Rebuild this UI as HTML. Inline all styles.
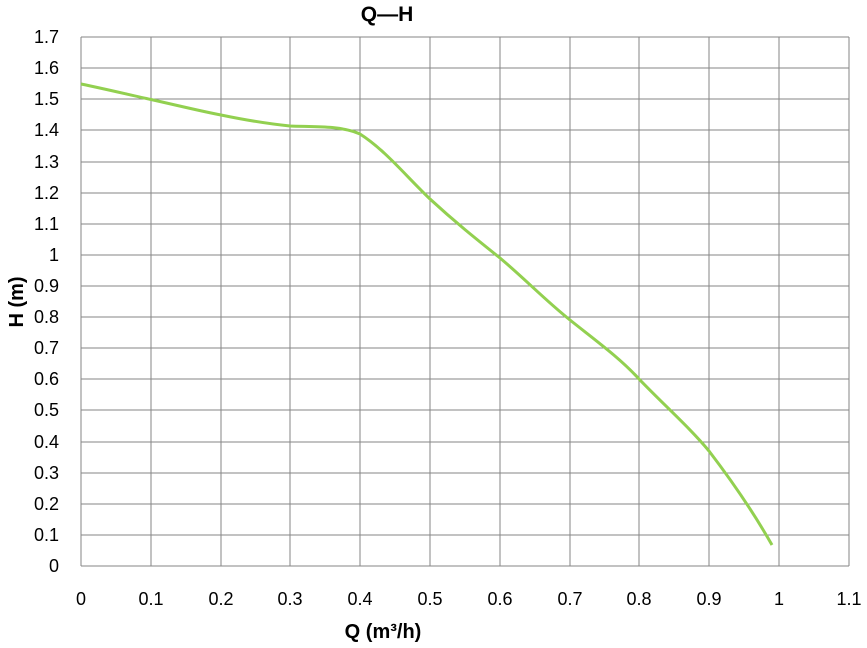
<!DOCTYPE html>
<html><head><meta charset="utf-8"><style>
body{margin:0;background:#fff;}
svg text{font-family:"Liberation Sans",sans-serif;fill:#000;}
</style></head><body>
<svg width="867" height="643" xmlns="http://www.w3.org/2000/svg">
<g stroke="#868686" stroke-width="1" shape-rendering="crispEdges">
<line x1="81" y1="37" x2="849" y2="37"/><line x1="81" y1="68" x2="849" y2="68"/><line x1="81" y1="99" x2="849" y2="99"/><line x1="81" y1="130" x2="849" y2="130"/><line x1="81" y1="162" x2="849" y2="162"/><line x1="81" y1="193" x2="849" y2="193"/><line x1="81" y1="224" x2="849" y2="224"/><line x1="81" y1="255" x2="849" y2="255"/><line x1="81" y1="286" x2="849" y2="286"/><line x1="81" y1="317" x2="849" y2="317"/><line x1="81" y1="348" x2="849" y2="348"/><line x1="81" y1="379" x2="849" y2="379"/><line x1="81" y1="410" x2="849" y2="410"/><line x1="81" y1="442" x2="849" y2="442"/><line x1="81" y1="473" x2="849" y2="473"/><line x1="81" y1="504" x2="849" y2="504"/><line x1="81" y1="535" x2="849" y2="535"/><line x1="81" y1="566" x2="849" y2="566"/>
<line x1="81" y1="37" x2="81" y2="566"/><line x1="151" y1="37" x2="151" y2="566"/><line x1="221" y1="37" x2="221" y2="566"/><line x1="290" y1="37" x2="290" y2="566"/><line x1="360" y1="37" x2="360" y2="566"/><line x1="430" y1="37" x2="430" y2="566"/><line x1="500" y1="37" x2="500" y2="566"/><line x1="570" y1="37" x2="570" y2="566"/><line x1="639" y1="37" x2="639" y2="566"/><line x1="709" y1="37" x2="709" y2="566"/><line x1="779" y1="37" x2="779" y2="566"/><line x1="849" y1="37" x2="849" y2="566"/>
</g>
<path d="M81,84 C110,90 130,95 151,99.5 C180,106 200,111 221,115 C250,121 270,124 290,126 C310,127 340,125 360,134 C385,150 405,175 430,199 C455,222 475,238 500,258 C525,279 545,300 570,320 C595,340 620,358 639,379 C665,406 690,428 709,451 C735,485 755,515 772,545" fill="none" stroke="#92d050" stroke-width="3"/>
<g font-size="18" text-anchor="end">
<text x="59" y="43">1.7</text><text x="59" y="74">1.6</text><text x="59" y="105">1.5</text><text x="59" y="136">1.4</text><text x="59" y="168">1.3</text><text x="59" y="199">1.2</text><text x="59" y="230">1.1</text><text x="59" y="261">1</text><text x="59" y="292">0.9</text><text x="59" y="323">0.8</text><text x="59" y="354">0.7</text><text x="59" y="385">0.6</text><text x="59" y="416">0.5</text><text x="59" y="448">0.4</text><text x="59" y="479">0.3</text><text x="59" y="510">0.2</text><text x="59" y="541">0.1</text><text x="59" y="572">0</text>
</g>
<g font-size="18" text-anchor="middle">
<text x="81" y="605">0</text><text x="151" y="605">0.1</text><text x="221" y="605">0.2</text><text x="290" y="605">0.3</text><text x="360" y="605">0.4</text><text x="430" y="605">0.5</text><text x="500" y="605">0.6</text><text x="570" y="605">0.7</text><text x="639" y="605">0.8</text><text x="709" y="605">0.9</text><text x="779" y="605">1</text><text x="849" y="605">1.1</text>
</g>
<text x="387" y="21" font-size="21" font-weight="bold" text-anchor="middle">Q—H</text>
<text x="383" y="638" font-size="20" font-weight="bold" text-anchor="middle">Q (m³/h)</text>
<text transform="translate(23,302) rotate(-90)" font-size="20" font-weight="bold" text-anchor="middle">H (m)</text>
</svg>
</body></html>
